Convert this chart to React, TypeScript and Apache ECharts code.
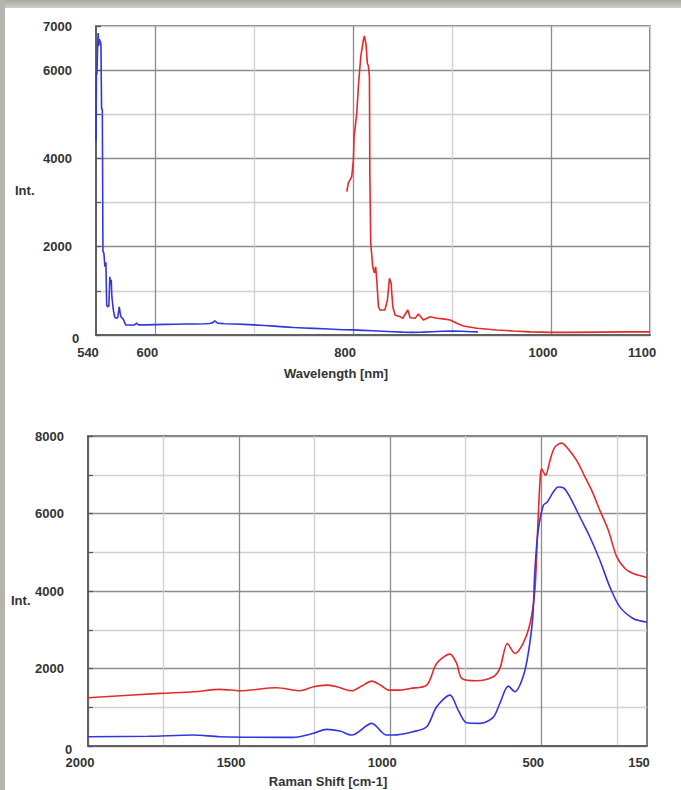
import React, { useEffect, useRef } from 'react';
import * as echarts from 'echarts';

// ---- Top chart: Wavelength [nm] vs Int. ----
const WL_BLUE_X = [540, 540.4, 541, 541.6, 542.2, 542.8, 543.4, 544.2, 545, 545.6, 546.4, 547, 548, 549, 550, 550.8, 551.5, 553, 554, 554.6, 555.4, 556, 557.5, 559, 561, 562, 563.5, 565, 567.5, 570, 575, 579, 581, 583, 590, 600, 610, 620, 630, 640, 650, 655, 658, 660, 663, 670, 680, 690, 700, 710, 720, 730, 740, 750, 760, 770, 780, 790, 800, 810, 820, 830, 840, 850, 860, 870, 880, 890, 900, 910, 920, 926];
const WL_BLUE_Y = [4400, 5930, 5900, 6500, 6840, 6550, 6700, 6650, 6600, 5140, 5100, 1900, 1850, 1550, 1650, 680, 640, 650, 1320, 1150, 1250, 880, 570, 400, 380, 400, 640, 420, 360, 230, 227, 230, 270, 230, 230, 235, 240, 245, 250, 250, 255, 260, 280, 320, 270, 255, 250, 240, 230, 215, 200, 185, 170, 160, 150, 140, 130, 120, 115, 105, 95, 85, 75, 65, 60, 65, 75, 85, 90, 85, 75, 70];

const WL_RED_X = [793.5, 795, 798.5, 800.2, 800.9, 803.6, 805.2, 807.6, 810.3, 811.3, 813, 814.3, 815.3, 816.4, 816.8, 817.7, 819.7, 821.4, 822.7, 823.8, 825.5, 827, 832, 834.6, 836.6, 838.3, 840, 842.3, 847.4, 850, 855.2, 857.5, 862.6, 865.9, 871, 877.7, 884.5, 892.9, 898, 904.7, 911.4, 925, 945, 962, 979, 1000, 1020, 1050, 1075, 1100];
const WL_RED_Y = [3246, 3440, 3586, 3965, 4493, 5023, 5625, 6305, 6683, 6774, 6570, 6155, 6100, 5852, 3670, 2084, 1547, 1405, 1547, 1246, 641, 566, 566, 793, 1285, 1171, 641, 453, 415, 380, 566, 390, 380, 476, 340, 415, 380, 360, 340, 265, 204, 152, 115, 90, 70, 60, 60, 65, 70, 70];

const WL_TICK_LABELS = [540, 600, 800, 1000, 1100];
const INT_TICK_LABELS_TOP = [2000, 4000, 6000, 7000];

// ---- Bottom chart: Raman Shift [cm-1] vs Int. ----
const RS_RED_X = [2000, 1762, 1650, 1563, 1497, 1376, 1298, 1254, 1210, 1177, 1127, 1094, 1061, 1030, 1006, 967, 934, 879, 846, 802, 780, 763, 714, 659, 637, 612, 587, 560, 537, 521, 512, 504, 499, 486, 471, 455, 432, 416, 383, 355, 333, 306, 278, 250, 223, 196, 157, 150];
const RS_RED_Y = [1245, 1358, 1400, 1461, 1426, 1503, 1426, 1529, 1572, 1529, 1426, 1546, 1675, 1560, 1443, 1443, 1486, 1572, 2131, 2371, 2131, 1745, 1683, 1786, 2002, 2647, 2389, 2647, 3162, 4021, 5567, 6856, 7156, 6985, 7371, 7714, 7817, 7714, 7371, 6941, 6598, 6082, 5567, 4879, 4580, 4451, 4363, 4350];

const RS_BLUE_X = [2000, 1800, 1652, 1563, 1321, 1254, 1210, 1166, 1127, 1061, 1012, 990, 924, 879, 846, 802, 775, 747, 703, 659, 637, 609, 587, 560, 543, 528, 521, 510, 493, 480, 460, 444, 427, 405, 372, 339, 306, 273, 240, 196, 157, 150];
const RS_BLUE_Y = [240, 250, 283, 240, 223, 327, 430, 386, 283, 585, 283, 283, 369, 497, 1013, 1314, 928, 600, 585, 740, 1100, 1546, 1400, 1786, 2389, 3332, 4536, 5567, 6211, 6296, 6554, 6683, 6666, 6425, 5910, 5394, 4794, 4106, 3590, 3291, 3204, 3200];

const RS_TICK_LABELS = [2000, 1500, 1000, 500, 150];
const INT_TICK_LABELS_BOTTOM = [2000, 4000, 6000, 8000];

const pairs = (xs: number[], ys: number[]) => xs.map((x, i) => [x, ys[i]]);

export default function App() {
  const ref = useRef<HTMLDivElement>(null);
  useEffect(() => {
    const chart = echarts.init(ref.current as HTMLDivElement, null, { renderer: 'svg' });
    const FF = '"Liberation Sans", Arial, sans-serif';
    const font = { fontFamily: FF, fontWeight: 'bold' as const, fontSize: 13, color: '#333' };
    const dark = '#8c8c8c';
    const light = '#d0d0d0';
    const T = 'rgba(0,0,0,0)';
    const frame = '#555';
    const blue = '#3535dc';
    const red = '#e42a2a';

    const axisLine = { show: true, onZero: false, lineStyle: { color: frame, width: 1.5 } };
    const yLabel = (labels: number[], pad: number) => ({
      show: true,
      align: 'left',
      margin: 53,
      ...font,
      formatter: (v: number) => {
        const r = Math.round(v);
        if (r === 0) return '{z|0}';
        return labels.includes(r) ? String(r) : '';
      },
      rich: { z: { ...font, padding: [6, 0, 0, pad] } },
    });
    const xLabel = (labels: number[], margin: number) => ({
      show: true,
      interval: 0,
      margin,
      showMinLabel: true,
      showMaxLabel: true,
      ...font,
      padding: [0, 16, 0, 0],
      formatter: (v: number) => {
        const r = Math.round(v);
        return labels.includes(r) ? String(r) : '';
      },
    });

    const option: any = {
      animation: false,
      backgroundColor: '#ffffff',
      grid: [
        { left: 96, top: 26, width: 554, height: 309, show: true, borderColor: frame, borderWidth: 1.5, containLabel: false, outerBoundsMode: 'none' },
        { left: 88, top: 436, width: 559, height: 310, show: true, borderColor: frame, borderWidth: 1.5, containLabel: false, outerBoundsMode: 'none' },
      ],
      xAxis: [
        {
          gridIndex: 0, type: 'value', min: 540, max: 1100, interval: 20,
          axisLine, axisTick: { show: false },
          splitLine: { show: true, lineStyle: { color: [T, T, T, dark, T, T, T, T, light, T], width: 1.3 } },
          axisLabel: xLabel(WL_TICK_LABELS, 11),
        },
        {
          gridIndex: 1, type: 'value', inverse: true, min: 150, max: 2000, interval: 50,
          axisLine, axisTick: { show: false },
          splitLine: { show: true, lineStyle: { color: [T, T, light, T, T, T, T, dark, T, T], width: 1.3 } },
          axisLabel: xLabel(RS_TICK_LABELS, 10),
        },
      ],
      yAxis: [
        {
          gridIndex: 0, type: 'value', min: 0, max: 7000, interval: 1000,
          axisLine, axisTick: { show: true, inside: true, length: 5, lineStyle: { color: frame, width: 1.2 } },
          splitLine: { show: true, lineStyle: { color: [dark, light], width: 1.3 } },
          axisLabel: yLabel(INT_TICK_LABELS_TOP, 29),
        },
        {
          gridIndex: 1, type: 'value', min: 0, max: 8000, interval: 1000,
          axisLine, axisTick: { show: true, inside: true, length: 5, lineStyle: { color: frame, width: 1.2 } },
          splitLine: { show: true, lineStyle: { color: [dark, light], width: 1.3 } },
          axisLabel: yLabel(INT_TICK_LABELS_BOTTOM, 30),
        },
      ],
      series: [
        { type: 'line', xAxisIndex: 0, yAxisIndex: 0, data: pairs(WL_BLUE_X, WL_BLUE_Y), showSymbol: false, symbol: 'none', silent: true, lineStyle: { color: blue, width: 1.6 } },
        { type: 'line', xAxisIndex: 0, yAxisIndex: 0, data: pairs(WL_RED_X, WL_RED_Y), showSymbol: false, symbol: 'none', silent: true, lineStyle: { color: red, width: 1.6 } },
        { type: 'line', xAxisIndex: 1, yAxisIndex: 1, data: pairs(RS_RED_X, RS_RED_Y), showSymbol: false, symbol: 'none', silent: true, smooth: 0.3, lineStyle: { color: red, width: 1.6 } },
        { type: 'line', xAxisIndex: 1, yAxisIndex: 1, data: pairs(RS_BLUE_X, RS_BLUE_Y), showSymbol: false, symbol: 'none', silent: true, smooth: 0.3, lineStyle: { color: blue, width: 1.6 } },
      ],
      graphic: [
        {
          type: 'rect', shape: { x: 0, y: 0, width: 681, height: 8 }, silent: true,
          style: { fill: new echarts.graphic.LinearGradient(0, 0, 0, 1, [{ offset: 0, color: '#a9a9a2' }, { offset: 1, color: '#cfcfc8' }]) },
        },
        { type: 'rect', shape: { x: 0, y: 0, width: 5, height: 790 }, silent: true, style: { fill: '#b5b5ad' } },
        { type: 'text', x: 15, y: 190, silent: true, style: { text: 'Int.', fill: '#333', fontFamily: FF, fontWeight: 'bold', fontSize: 13, align: 'left', verticalAlign: 'middle' } },
        { type: 'text', x: 11, y: 600, silent: true, style: { text: 'Int.', fill: '#333', fontFamily: FF, fontWeight: 'bold', fontSize: 13, align: 'left', verticalAlign: 'middle' } },
        { type: 'text', x: 336, y: 373, silent: true, style: { text: 'Wavelength [nm]', fill: '#333', fontFamily: FF, fontWeight: 'bold', fontSize: 13, align: 'center', verticalAlign: 'middle' } },
        { type: 'text', x: 328, y: 781, silent: true, style: { text: 'Raman Shift [cm-1]', fill: '#333', fontFamily: FF, fontWeight: 'bold', fontSize: 13, align: 'center', verticalAlign: 'middle' } },
      ],
    };
    chart.setOption(option);
    return () => chart.dispose();
  }, []);
  return <div ref={ref} style={{ position: 'fixed', left: 0, top: 0, width: 681, height: 790 }} />;
}
